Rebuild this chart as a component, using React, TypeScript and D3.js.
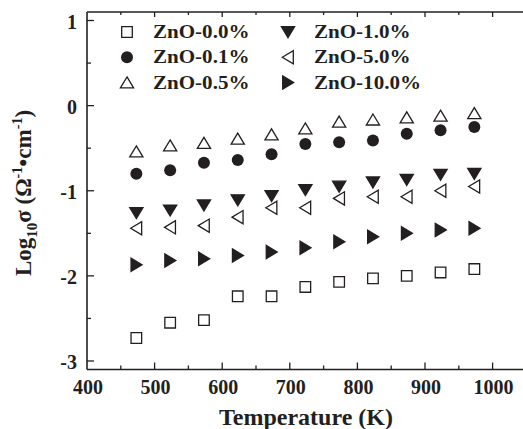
import React, { useRef, useEffect } from 'react';
import * as d3 from 'd3';

// temperatures (K)
const temps = [473, 523, 573, 623, 673, 723, 773, 823, 873, 923, 973];

// log10 sigma per ZnO content
const zno00 = [-2.73, -2.55, -2.52, -2.24, -2.24, -2.13, -2.07, -2.03, -2.0, -1.96, -1.92];
const zno01 = [-0.8, -0.76, -0.67, -0.64, -0.57, -0.45, -0.43, -0.41, -0.33, -0.29, -0.25];
const zno05 = [-0.54, -0.47, -0.44, -0.39, -0.34, -0.27, -0.19, -0.165, -0.14, -0.12, -0.09];
const zno10 = [-1.26, -1.23, -1.17, -1.11, -1.06, -0.99, -0.95, -0.9, -0.87, -0.81, -0.8];
const zno50 = [-1.44, -1.43, -1.41, -1.31, -1.2, -1.2, -1.09, -1.07, -1.07, -1.0, -0.95];
const zno100 = [-1.87, -1.82, -1.8, -1.76, -1.72, -1.67, -1.6, -1.54, -1.5, -1.46, -1.44];

const xTicks = [400, 500, 600, 700, 800, 900, 1000];
const yTicks = [1, 0, -1, -2, -3];

const FONT = '"Liberation Serif", "Times New Roman", serif';

// marker shapes, centred on their bounding box
const shapes = {
  square: 'M-5.3,-5.3H5.3V5.3H-5.3Z',
  up: 'M0,-5.7L6.6,5.3H-6.6Z',
  down: 'M0,5.7L6.6,-5.3H-6.6Z',
  left: 'M-5.7,0L5.3,-6.6V6.6Z',
  right: 'M5.7,0L-5.3,-6.6V6.6Z',
};

const series = [
  { name: 'ZnO-0.0%', values: zno00, shape: 'square', filled: false },
  { name: 'ZnO-0.1%', values: zno01, shape: 'circle', filled: true },
  { name: 'ZnO-0.5%', values: zno05, shape: 'up', filled: false },
  { name: 'ZnO-1.0%', values: zno10, shape: 'down', filled: true },
  { name: 'ZnO-5.0%', values: zno50, shape: 'left', filled: false },
  { name: 'ZnO-10.0%', values: zno100, shape: 'right', filled: true },
];

const W = 523;
const H = 429;

const drawMarker = (g, shape, filled) => {
  if (shape === 'circle') {
    g.append('circle').attr('r', 6).attr('fill', '#231f20');
  } else {
    g.append('path')
      .attr('d', shapes[shape])
      .attr('fill', filled ? '#231f20' : 'none')
      .attr('stroke', '#231f20')
      .attr('stroke-width', 1.3);
  }
};

const App = () => {
  const svgRef = useRef(null);

  useEffect(() => {
    const svg = d3.select(svgRef.current);
    svg.selectAll('*').remove();

    const x = d3.scaleLinear().domain([400, 1050]).range([87, 526.4]);
    const y = d3.scaleLinear().domain([-3.1, 1.1]).range([369.5, 12]);

    // Frame lines
    const axisG = svg.append('g').attr('stroke', '#231f20').attr('stroke-width', 1.6);
    axisG.append('line').attr('x1', x(400)).attr('x2', x(1050)).attr('y1', y(-3.1)).attr('y2', y(-3.1));
    axisG.append('line').attr('x1', x(400)).attr('x2', x(1050)).attr('y1', y(1.1)).attr('y2', y(1.1));
    axisG.append('line').attr('x1', x(400)).attr('x2', x(400)).attr('y1', y(-3.1)).attr('y2', y(1.1));

    // Ticks (inward)
    const tickG = svg.append('g').attr('stroke', '#231f20').attr('stroke-width', 1.3);
    d3.range(450, 1050, 50).forEach(t => {
      const major = t % 100 === 0;
      tickG.append('line')
        .attr('x1', x(t)).attr('x2', x(t))
        .attr('y1', y(-3.1)).attr('y2', y(-3.1) - (major ? 7 : 4));
      tickG.append('line')
        .attr('x1', x(t)).attr('x2', x(t))
        .attr('y1', y(1.1)).attr('y2', y(1.1) + (major ? 5 : 3));
    });
    d3.range(-3, 1.01, 0.5).forEach(v => {
      const major = Math.abs(v % 1) < 1e-6;
      tickG.append('line')
        .attr('x1', x(400)).attr('x2', x(400) + (major ? 7 : 4))
        .attr('y1', y(v)).attr('y2', y(v));
    });

    // Tick labels
    svg.append('g')
      .selectAll('text')
      .data(xTicks)
      .enter().append('text')
      .attr('x', d => x(d) + 1)
      .attr('y', 394)
      .attr('text-anchor', 'middle')
      .attr('font-family', FONT)
      .attr('font-weight', 'bold')
      .attr('font-size', 20)
      .attr('fill', '#231f20')
      .text(d => d);

    svg.append('g')
      .selectAll('text')
      .data(yTicks)
      .enter().append('text')
      .attr('x', 77)
      .attr('y', d => y(d) + 8)
      .attr('text-anchor', 'end')
      .attr('font-family', FONT)
      .attr('font-weight', 'bold')
      .attr('font-size', 20)
      .attr('fill', '#231f20')
      .text(d => d);

    // Data points
    series.forEach(s => {
      const g = svg.append('g');
      s.values.forEach((v, i) => {
        const m = g.append('g').attr('transform', `translate(${x(temps[i])},${y(v)})`);
        drawMarker(m, s.shape, s.filled);
      });
    });

    // Legend, two columns of three
    const legend = svg.append('g');
    series.forEach((s, i) => {
      const col = Math.floor(i / 3);
      const row = i % 3;
      const mx = col === 0 ? 127 : 288;
      const my = 32 + row * 25.3;
      const m = legend.append('g').attr('transform', `translate(${mx},${my})`);
      drawMarker(m, s.shape, s.filled);
      legend.append('text')
        .attr('transform', `translate(${mx + 26},${my + 6}) scale(1.17,1)`)
        .attr('font-family', FONT)
        .attr('font-weight', 'bold')
        .attr('font-size', 18)
        .attr('fill', '#231f20')
        .text(s.name);
    });

    // Axis titles
    svg.append('text')
      .attr('x', 306)
      .attr('y', 425)
      .attr('text-anchor', 'middle')
      .attr('font-family', FONT)
      .attr('font-weight', 'bold')
      .attr('font-size', 24)
      .attr('fill', '#231f20')
      .text('Temperature (K)');

    const yl = svg.append('text')
      .attr('transform', 'translate(31,193) rotate(-90)')
      .attr('text-anchor', 'middle')
      .attr('font-family', FONT)
      .attr('font-weight', 'bold')
      .attr('font-size', 23)
      .attr('fill', '#231f20');
    yl.append('tspan').text('Log');
    yl.append('tspan').attr('font-size', 15).attr('dy', 6).text('10');
    yl.append('tspan').attr('dy', -6).text('σ (Ω');
    yl.append('tspan').attr('font-size', 14).attr('dy', -9).text('-1');
    yl.append('tspan').attr('dy', 9).text('•cm');
    yl.append('tspan').attr('font-size', 14).attr('dy', -9).text('-1');
    yl.append('tspan').attr('dy', 9).text(')');
  }, []);

  return (
    <svg
      ref={svgRef}
      width={W}
      height={H}
      style={{ position: 'absolute', left: 0, top: 0, background: '#fff' }}
    />
  );
};

export default App;
